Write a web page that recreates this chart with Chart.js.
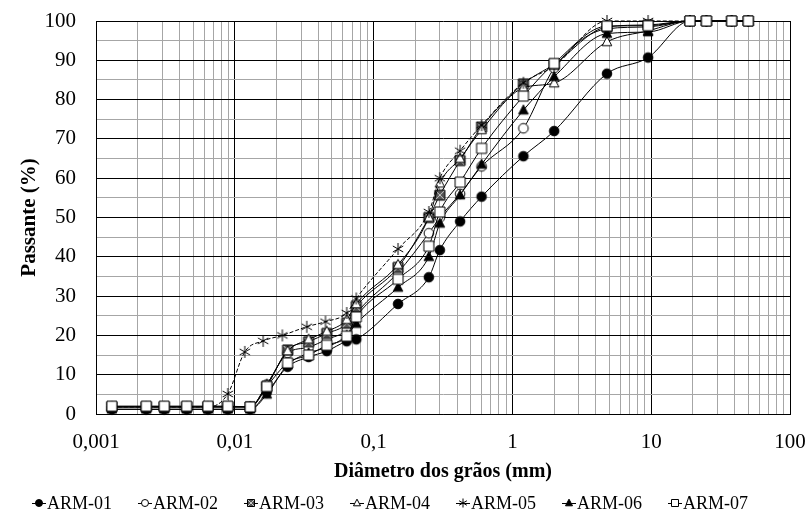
<!DOCTYPE html>
<html>
<head>
<meta charset="utf-8">
<script src="https://cdn.jsdelivr.net/npm/chart.js@4"></script>
<style>
  body { margin: 0; background: #fff; }
</style>
</head>
<body>
<canvas id="chart" width="810" height="520"></canvas>
<script>
// sieve openings (mm) and sedimentation diameters (mm)
const sieveMm = [50, 38, 25, 19, 9.5, 4.8, 2.0, 1.2, 0.6, 0.42, 0.3, 0.25, 0.15, 0.075];
const sedMm = [0.064, 0.046, 0.034, 0.024, 0.017, 0.0129, 0.0089, 0.0064, 0.0045, 0.0031, 0.0023, 0.0013];
const sedMmArm05 = [0.064, 0.045, 0.033, 0.022, 0.016, 0.0118, 0.0089, 0.0064, 0.0045, 0.0031, 0.0023, 0.0013];

// percent passing
const arm01Sieve = [100, 100, 100, 100, 90.7, 86.6, 72, 65.6, 55.3, 49, 41.7, 34.8, 28, 19];
const arm01Sed = [18.5, 16, 14.5, 12, 5.5, 1.2, 1.2, 1.2, 1.2, 1.2, 1.2, 1.2];
const arm02Sieve = [100, 100, 100, 100, 98.5, 98, 88, 72.7, 63, 56, 50, 46, 36, 25.5];
const arm02Sed = [21.5, 19, 17, 15.5, 7.5, 1.8, 1.8, 1.8, 1.8, 1.8, 1.8, 1.8];
const arm03Sieve = [100, 100, 100, 100, 99, 98.5, 89, 84, 73, 64.5, 55.7, 50, 37.3, 27.3];
const arm03Sed = [23.1, 20.5, 18.4, 16.3, 7, 1.8, 1.8, 1.8, 1.8, 1.8, 1.8, 1.8];
const arm04Sieve = [100, 100, 100, 100, 97.5, 94.7, 84.2, 83, 72.3, 65, 58.7, 50, 38, 28];
const arm04Sed = [24, 21, 19, 16, 7.5, 1.8, 1.8, 1.8, 1.8, 1.8, 1.8, 1.8];
const arm05Sieve = [100, 100, 100, 100, 100, 100, 88.5, 84.3, 73.5, 67, 60, 51.4, 42, 29.4];
const arm05Sed = [25.7, 23.5, 22.2, 20, 18.6, 15.8, 5.1, 1.8, 1.8, 1.8, 1.8, 1.8];
const arm06Sieve = [100, 100, 100, 100, 97.2, 96.8, 85.8, 77.3, 63.5, 55.7, 48.5, 40, 32.2, 23];
const arm06Sed = [20, 17, 15.5, 12.5, 5, 1.2, 1.2, 1.2, 1.2, 1.2, 1.2, 1.2];
const arm07Sieve = [100, 100, 100, 100, 98.8, 98.7, 89.2, 80.9, 67.6, 59, 51.4, 42.7, 34.3, 24.7];
const arm07Sed = [19.8, 17.5, 15, 13, 7, 1.8, 2, 2, 2, 2, 2, 2];

const seriesNames = ["ARM-01", "ARM-02", "ARM-03", "ARM-04", "ARM-05", "ARM-06", "ARM-07"];
const xLabelDecades = [0.001, 0.01, 0.1, 1, 10, 100];

const FONT = "'Liberation Serif', 'Times New Roman', serif";

const series = [
    { sieve: arm01Sieve, sed: arm01Sed, sedX: sedMm, marker: "dot" },
    { sieve: arm02Sieve, sed: arm02Sed, sedX: sedMm, marker: "ring" },
    { sieve: arm03Sieve, sed: arm03Sed, sedX: sedMm, marker: "boxX" },
    { sieve: arm04Sieve, sed: arm04Sed, sedX: sedMm, marker: "tri" },
    { sieve: arm05Sieve, sed: arm05Sed, sedX: sedMmArm05, marker: "star", dash: [4, 2] },
    { sieve: arm06Sieve, sed: arm06Sed, sedX: sedMm, marker: "triFill" },
    { sieve: arm07Sieve, sed: arm07Sed, sedX: sedMm, marker: "box" }
];

function drawMarker(ctx, kind, x, y, r) {
    ctx.save();
    ctx.lineWidth = 1;
    ctx.strokeStyle = "#000";
    ctx.beginPath();
    if (kind === "dot" || kind === "ring") {
        ctx.arc(x, y, r, 0, Math.PI * 2);
        ctx.fillStyle = kind === "dot" ? "#000" : "#fff";
        ctx.fill();
        ctx.stroke();
    } else if (kind === "box" || kind === "boxX") {
        ctx.rect(x - r, y - r, 2 * r, 2 * r);
        ctx.fillStyle = kind === "box" ? "#fff" : "#555";
        ctx.fill();
        if (kind === "boxX") {
            ctx.beginPath();
            ctx.strokeStyle = "#ccc";
            ctx.moveTo(x - r, y - r); ctx.lineTo(x + r, y + r);
            ctx.moveTo(x + r, y - r); ctx.lineTo(x - r, y + r);
            ctx.stroke();
            ctx.beginPath();
            ctx.strokeStyle = "#000";
            ctx.rect(x - r, y - r, 2 * r, 2 * r);
        }
        ctx.stroke();
    } else if (kind === "tri" || kind === "triFill") {
        ctx.moveTo(x, y - r * 1.1);
        ctx.lineTo(x + r, y + r * 0.8);
        ctx.lineTo(x - r, y + r * 0.8);
        ctx.closePath();
        ctx.fillStyle = kind === "tri" ? "#fff" : "#000";
        ctx.fill();
        ctx.stroke();
    } else if (kind === "star") {
        for (const a of [90, 30, 150]) {
            const dx = Math.cos(a * Math.PI / 180) * r;
            const dy = Math.sin(a * Math.PI / 180) * r;
            ctx.moveTo(x - dx, y - dy);
            ctx.lineTo(x + dx, y + dy);
        }
        ctx.stroke();
    }
    ctx.restore();
}

function makeMarker(kind, r) {
    const size = Math.ceil(2 * r + 4);
    const c = document.createElement("canvas");
    c.width = size;
    c.height = size;
    drawMarker(c.getContext("2d"), kind, size / 2, size / 2, r);
    return c;
}

function markerSize(kind) {
    if (kind === "star") return 6;
    if (kind === "box" || kind === "boxX") return 5;
    return 4.8;
}

function isDecade(v) {
    const l = Math.log10(v);
    return Math.abs(l - Math.round(l)) < 1e-9;
}

// log grid: 1..9 in each decade
const xTicks = [];
for (let e = -3; e < 2; e++) {
    for (let m = 1; m < 10; m++) xTicks.push(Number((m * Math.pow(10, e)).toPrecision(3)));
}
xTicks.push(100);

const datasets = series.map((s, i) => {
    const pts = sieveMm.map((d, k) => ({ x: d, y: s.sieve[k] }))
        .concat(s.sedX.map((d, k) => ({ x: d, y: s.sed[k] })))
        .sort((a, b) => a.x - b.x);
    return {
        label: seriesNames[i],
        data: pts,
        showLine: true,
        borderColor: "#000",
        borderWidth: 1,
        borderDash: s.dash || [],
        pointStyle: makeMarker(s.marker, markerSize(s.marker)),
        pointRadius: 5,
        cubicInterpolationMode: "monotone",
        clip: false,
        order: seriesNames.length - i
    };
});

const legendPlugin = {
    id: "bottomLegend",
    afterDraw(chart) {
        const ctx = chart.ctx;
        ctx.save();
        ctx.font = "18px " + FONT;
        ctx.fillStyle = "#000";
        ctx.textBaseline = "middle";
        const symW = 14, gap = 26;
        const widths = seriesNames.map(n => symW + 1 + ctx.measureText(n).width);
        const total = widths.reduce((a, b) => a + b, 0) + gap * (widths.length - 1);
        let x = 390 - total / 2;
        const y = 503;
        seriesNames.forEach((n, i) => {
            ctx.beginPath();
            ctx.strokeStyle = "#000";
            ctx.lineWidth = 1;
            ctx.moveTo(x, y + 0.5);
            ctx.lineTo(x + symW, y + 0.5);
            ctx.stroke();
            drawMarker(ctx, series[i].marker, x + symW / 2, y, series[i].marker === "star" ? 4.5 : 3.5);
            ctx.fillText(n, x + symW + 1, y + 1);
            x += widths[i] + gap;
        });
        ctx.restore();
    }
};

new Chart(document.getElementById("chart"), {
    type: "scatter",
    data: { datasets },
    plugins: [legendPlugin],
    options: {
        responsive: false,
        animation: false,
        devicePixelRatio: 1,
        layout: { padding: { left: 0, right: 20, top: 21, bottom: 36 } },
        plugins: {
            legend: { display: false },
            tooltip: { enabled: false }
        },
        scales: {
            x: {
                type: "logarithmic",
                min: 0.001,
                max: 100,
                afterBuildTicks: (scale) => {
                    scale.ticks = xTicks.map(v => ({ value: v }));
                },
                afterFit: (scale) => {
                    scale.height = 70;
                    scale.paddingLeft = 0;
                    scale.paddingRight = 0;
                },
                ticks: {
                    autoSkip: false,
                    maxRotation: 0,
                    padding: 16,
                    color: "#000",
                    font: { family: FONT, size: 21 },
                    callback: (v) => xLabelDecades.includes(v) ? String(v).replace(".", ",") : ""
                },
                grid: {
                    drawTicks: false,
                    lineWidth: 1,
                    color: (c) => (c.tick && isDecade(c.tick.value)) ? "#000" : "#a6a6a6"
                },
                border: { color: "#000" },
                title: {
                    display: true,
                    text: "Diâmetro dos grãos (mm)",
                    color: "#000",
                    font: { family: FONT, size: 20, weight: "bold" },
                    padding: { top: 0, bottom: 0 }
                }
            },
            y: {
                min: 0,
                max: 100,
                afterFit: (scale) => {
                    scale.width = 96;
                    scale.paddingTop = 0;
                    scale.paddingBottom = 0;
                },
                ticks: {
                    stepSize: 5,
                    autoSkip: false,
                    padding: 20,
                    color: "#000",
                    font: { family: FONT, size: 21 },
                    callback: (v) => v % 10 === 0 ? v : ""
                },
                grid: {
                    drawTicks: false,
                    lineWidth: 1,
                    color: (c) => (c.tick && c.tick.value % 10 === 0) ? "#000" : "#a6a6a6"
                },
                border: { color: "#000" },
                title: {
                    display: true,
                    text: "Passante (%)",
                    color: "#000",
                    font: { family: FONT, size: 21, weight: "bold" },
                    padding: { top: 17, bottom: 0 }
                }
            }
        }
    }
});
</script>
</body>
</html>
